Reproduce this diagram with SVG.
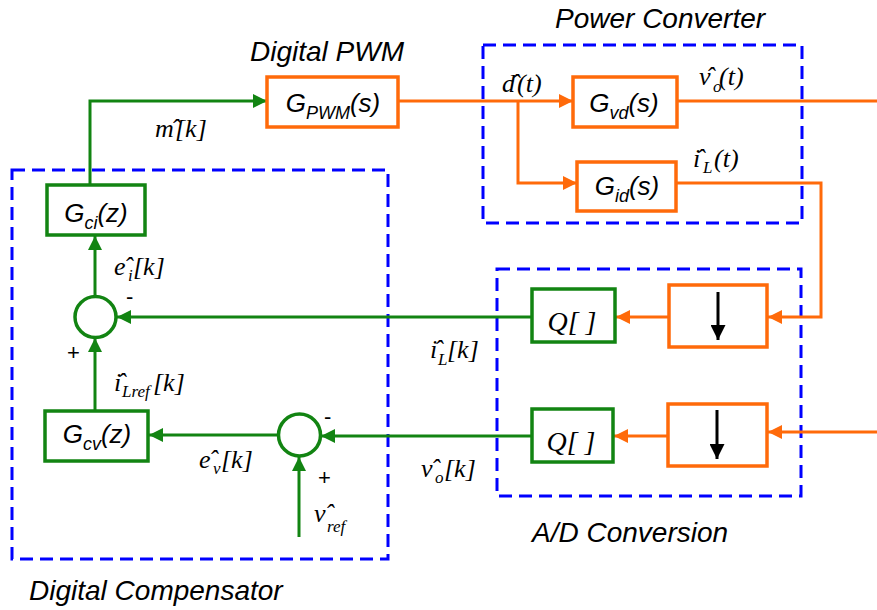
<svg xmlns="http://www.w3.org/2000/svg" width="877" height="610" viewBox="0 0 877 610">
<style>
.bg{fill:#fff}
.grp{fill:none;stroke-width:3;stroke-dasharray:13 7;stroke:#0000FF}
.ob{fill:#fff;stroke:#FF6A0A;stroke-width:3.5}
.gb{fill:#fff;stroke:#128412;stroke-width:3.5}
.oc{fill:none;stroke:#FF6A0A;stroke-width:3}
.gc{fill:none;stroke:#128412;stroke-width:3}
.title{font-family:"Liberation Sans",Arial,sans-serif;font-style:italic;font-size:28px;fill:#000}
.gl{font-family:"Liberation Sans",Arial,sans-serif;font-style:italic;font-size:26px;fill:#000}
.m{font-family:"Liberation Serif","Times New Roman",serif;font-style:italic;font-size:26px;fill:#000}
.s{font-size:17px}
.q{font-family:"Liberation Serif","Times New Roman",serif;font-style:italic;font-size:28px;fill:#000}
.sg{font-family:"Liberation Sans",Arial,sans-serif;font-size:22px;fill:#000}
</style>
<defs>
<marker id="ag" viewBox="0 0 14 14" refX="14" refY="7" markerWidth="14" markerHeight="14" orient="auto" markerUnits="userSpaceOnUse"><path d="M0,0 L14,7 L0,14 z" fill="#128412"/></marker>
<marker id="ao" viewBox="0 0 14 14" refX="14" refY="7" markerWidth="14" markerHeight="14" orient="auto" markerUnits="userSpaceOnUse"><path d="M0,0 L14,7 L0,14 z" fill="#FF6A0A"/></marker>
<marker id="ak" viewBox="0 0 15 15" refX="15" refY="7.5" markerWidth="15" markerHeight="15" orient="auto" markerUnits="userSpaceOnUse"><path d="M0,0 L15,7.5 L0,15 z" fill="#000"/></marker>
</defs>
<rect class="bg" x="0" y="0" width="877" height="610"/>

<g id="groups">
<rect class="grp" x="12" y="170" width="376" height="389"/>
<rect class="grp" x="483" y="45" width="319" height="178"/>
<rect class="grp" x="497" y="269" width="304" height="227"/>
<text class="title" x="250" y="61">Digital PWM</text>
<text class="title" x="555" y="28">Power Converter</text>
<text class="title" x="532" y="542">A/D Conversion</text>
<text class="title" x="29" y="600">Digital Compensator</text>
</g>

<g id="connectors">
<path class="gc" d="M90,185 V101 H267" marker-end="url(#ag)"/>
<path class="gc" d="M532,317 H117" marker-end="url(#ag)"/>
<path class="gc" d="M95,296 V236" marker-end="url(#ag)"/>
<path class="gc" d="M95,410 V338" marker-end="url(#ag)"/>
<path class="gc" d="M532,436 H321" marker-end="url(#ag)"/>
<path class="gc" d="M278,435 H149" marker-end="url(#ag)"/>
<path class="gc" d="M299,537 V457" marker-end="url(#ag)"/>
<path class="oc" d="M398,101 H573" marker-end="url(#ao)"/>
<path class="oc" d="M518,101 V183 H577" marker-end="url(#ao)"/>
<path class="oc" d="M677,101 H877"/>
<path class="oc" d="M676,183 H821 V317 H768" marker-end="url(#ao)"/>
<path class="oc" d="M669,317 H616" marker-end="url(#ao)"/>
<path class="oc" d="M877,432 H768" marker-end="url(#ao)"/>
<path class="oc" d="M668,436 H614" marker-end="url(#ao)"/>
</g>

<g id="labels">
<text class="m"><tspan x="155" y="137">m</tspan><tspan x="171" y="137">ˆ</tspan><tspan x="175" y="137">[k]</tspan></text>
<text class="m"><tspan x="502" y="92">d</tspan><tspan x="511" y="92">ˆ</tspan><tspan x="517" y="92">(t)</tspan></text>
<text class="m"><tspan x="699" y="85">v</tspan><tspan x="706" y="85">ˆ</tspan><tspan class="s" x="713" y="92">o</tspan><tspan x="719" y="85">(t)</tspan></text>
<text class="m"><tspan x="693" y="167">i</tspan><tspan x="696" y="167">ˆ</tspan><tspan class="s" x="703" y="173">L</tspan><tspan x="714" y="167">(t)</tspan></text>
<text class="m"><tspan x="114" y="275">e</tspan><tspan x="124" y="275">ˆ</tspan><tspan class="s" x="128" y="281">i</tspan><tspan x="133" y="275">[k]</tspan></text>
<text class="m"><tspan x="114" y="391">i</tspan><tspan x="117" y="391">ˆ</tspan><tspan class="s" x="122" y="397">Lref</tspan><tspan x="153" y="391">[k]</tspan></text>
<text class="m"><tspan x="430" y="358">i</tspan><tspan x="434" y="358">ˆ</tspan><tspan class="s" x="438" y="365">L</tspan><tspan x="447" y="358">[k]</tspan></text>
<text class="m"><tspan x="421" y="477">v</tspan><tspan x="431" y="477">ˆ</tspan><tspan class="s" x="435" y="483">o</tspan><tspan x="444" y="477">[k]</tspan></text>
<text class="m"><tspan x="199" y="468">e</tspan><tspan x="209" y="468">ˆ</tspan><tspan class="s" x="213" y="474">v</tspan><tspan x="221" y="468">[k]</tspan></text>
<text class="m"><tspan x="314" y="522">v</tspan><tspan x="325" y="522">ˆ</tspan><tspan class="s" x="327" y="532">ref</tspan></text>
<text class="sg" x="126" y="304">-</text>
<text class="sg" x="67" y="360">+</text>
<text class="sg" x="324" y="424">-</text>
<text class="sg" x="318" y="485">+</text>
</g>

<g id="gpwm"><rect class="ob" x="267" y="77" width="131" height="50"/><text class="gl" x="333" y="112" text-anchor="middle">G<tspan font-size="18" dy="7">PWM</tspan><tspan dy="-7">(s)</tspan></text></g>
<g id="gvd"><rect class="ob" x="573" y="77" width="104" height="50"/><text class="gl" x="624" y="112" text-anchor="middle">G<tspan font-size="18" dy="7">vd</tspan><tspan dy="-7">(s)</tspan></text></g>
<g id="gid"><rect class="ob" x="577" y="162" width="99" height="49"/><text class="gl" x="627" y="195" text-anchor="middle">G<tspan font-size="18" dy="7">id</tspan><tspan dy="-7">(s)</tspan></text></g>
<g id="ds1"><rect class="ob" x="669" y="285" width="98" height="62"/><path d="M718,292 V340" stroke="#000" stroke-width="3" marker-end="url(#ak)"/></g>
<g id="ds2"><rect class="ob" x="668" y="404" width="99" height="62"/><path d="M717,410 V459" stroke="#000" stroke-width="3" marker-end="url(#ak)"/></g>
<g id="q1"><rect class="gb" x="532" y="289" width="83" height="53"/><text class="q" x="572" y="331" text-anchor="middle">Q[ ]</text></g>
<g id="q2"><rect class="gb" x="532" y="409" width="81" height="53"/><text class="q" x="571" y="451" text-anchor="middle">Q[ ]</text></g>
<g id="gci"><rect class="gb" x="47" y="185" width="98" height="50"/><text class="gl" x="96" y="222" text-anchor="middle">G<tspan font-size="18" dy="7">ci</tspan><tspan dy="-7">(z)</tspan></text></g>
<g id="gcv"><rect class="gb" x="45" y="411" width="103" height="50"/><text class="gl" x="97" y="443" text-anchor="middle">G<tspan font-size="18" dy="7">cv</tspan><tspan dy="-7">(z)</tspan></text></g>
<g id="sum1"><circle cx="95.5" cy="317" r="20.5" fill="#fff" stroke="#128412" stroke-width="3.5"/></g>
<g id="sum2"><circle cx="299.5" cy="435" r="21" fill="#fff" stroke="#128412" stroke-width="3.5"/></g>
</svg>
